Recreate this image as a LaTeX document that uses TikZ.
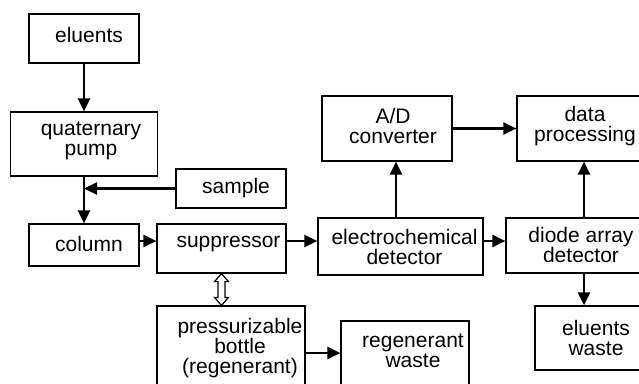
\documentclass[tikz,border=0pt]{standalone}
\usepackage{fontspec}
\setmainfont{Liberation Sans}
\usetikzlibrary{arrows.meta,calc}
\begin{document}
\begin{tikzpicture}[x=1pt,y=-1pt,
  box/.style={draw,line width=1.2pt,rectangle,inner sep=0pt},
  lbl/.style={inner sep=0pt,align=center,font=\fontsize{21}{20}\selectfont},
  flow/.style={line width=2.2pt,-{Triangle[length=13pt,width=12pt]}}]
\useasboundingbox (0,0) rectangle (639,383);
\node[box,minimum width=110,minimum height=49,label={[lbl,xshift=5pt,yshift=4pt]center:eluents}] (eluents) at (84,38.5) {};
\node[box,minimum width=147,minimum height=64,label={[lbl,xshift=7pt,yshift=3pt]center:quaternary\\pump}] (pump) at (84,144) {};
\node[box,minimum width=110,minimum height=39,label={[lbl,xshift=5pt]center:sample}] (sample) at (231,188.5) {};
\node[box,minimum width=110,minimum height=42,label={[lbl,xshift=5pt,yshift=1pt]center:column}] (column) at (84,245) {};
\node[box,minimum width=129,minimum height=49,label={[lbl,xshift=7pt,yshift=4pt]center:suppressor}] (sup) at (221.5,248.5) {};
\node[box,minimum width=165,minimum height=57,label={[lbl,xshift=4pt]center:electrochemical\\detector}] (ecd) at (400.5,246.5) {};
\node[box,minimum width=150,minimum height=55,label={[lbl,yshift=1pt]center:diode array\\detector}] (dad) at (581,245.5) {};
\node[box,minimum width=122,minimum height=64,label={[lbl]center:eluents\\waste}] (ew) at (596,338) {};
\node[box,minimum width=130,minimum height=65,label={[lbl,xshift=6pt,yshift=3pt]center:A/D\\converter}] (ad) at (387,128.5) {};
\node[box,minimum width=136,minimum height=65,label={[lbl,yshift=2pt]center:data\\processing}] (dp) at (585,128.5) {};
\node[box,minimum width=148,minimum height=84,label={[lbl,xshift=9pt]center:pressurizable\\bottle\\(regenerant)}] (bottle) at (231,348) {};
\node[box,minimum width=128,minimum height=64,label={[lbl,xshift=8pt,yshift=2pt]center:regenerant\\waste}] (rw) at (405,353) {};
\coordinate (row) at (0,241);
\coordinate (rcol) at (584,0);
\coordinate (bot) at (0,353);
\draw[flow] (eluents.south) -- (eluents.south |- pump.north);
\draw[flow] (pump.south) -- (pump.south |- column.north);
\draw[flow] (sample.west) -- (sample.west -| pump.south);
\draw[flow] (column.east |- row) -- (sup.west |- row);
\draw[flow] (sup.east |- row) -- (ecd.west |- row);
\draw[flow] (ecd.east |- row) -- (dad.west |- row);
\draw[flow] (dad.south -| rcol) -- (ew.north -| rcol);
\draw[flow] (dad.north -| rcol) -- (dp.south -| rcol);
\draw[flow] (ecd.north -| ad.south) ++(9,0) coordinate (adc) -- (adc |- ad.south);
\draw[flow] (ad.east) -- (dp.west);
\draw[flow] (bottle.east |- bot) -- (rw.west |- bot);
\coordinate (dt) at (sup.south);
\coordinate (db) at (bottle.north -| dt);
\draw[line width=1.2pt,fill=white] (dt) -- ++(7,8) -- ++(-3.5,0) -- ($(db)+(3.5,-8)$) -- ++(3.5,0) -- (db)
  -- ++(-7,-8) -- ++(3.5,0) -- ($(dt)+(-3.5,8)$) -- ++(-3.5,0) -- cycle;
\end{tikzpicture}
\end{document}
